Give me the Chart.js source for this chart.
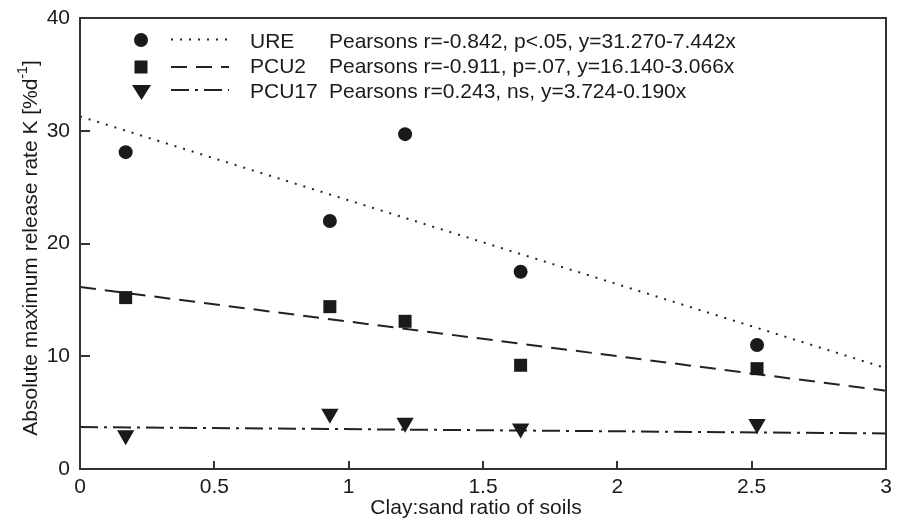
<!DOCTYPE html>
<html>
<head>
<meta charset="utf-8">
<script src="https://cdn.jsdelivr.net/npm/chart.js@4.4.1/dist/chart.umd.min.js"></script>
<style>
  html, body { margin: 0; padding: 0; background: #fff; }
  #wrap { width: 898px; height: 525px; }
</style>
</head>
<body>
<div id="wrap"><canvas id="chart"></canvas></div>
<script>
const clayRatio = [0.17, 0.93, 1.21, 1.64, 2.52];
const ureK = [28.1, 22.0, 29.7, 17.5, 11.0];
const pcu2K = [15.2, 14.4, 13.1, 9.2, 8.9];
const pcu17K = [3.0, 4.9, 4.1, 3.6, 4.0];

// Regression lines y = a + b*x
const seriesNames = ['URE', 'PCU2', 'PCU17'];
const fitIntercepts = [31.270, 16.140, 3.724];
const fitSlopes = [-7.442, -3.066, -0.190];
const fitRange = [0, 3];
const statsText = [
    'Pearsons r=-0.842, p<.05, y=31.270-7.442x',
    'Pearsons r=-0.911, p=.07, y=16.140-3.066x',
    'Pearsons r=0.243, ns, y=3.724-0.190x'
];

const xTicks = [0, 0.5, 1, 1.5, 2, 2.5, 3];
const yTicks = [0, 10, 20, 30, 40];

const ink = '#1a1a1a';
const fontFamily = '"Liberation Sans", Arial, Helvetica, sans-serif';
const dashes = [[2, 7], [16, 9], [18, 6, 3, 6]];
const markers = ['circle', 'rect', 'triangle'];

function toPoints(ys) {
    return clayRatio.map((x, i) => ({ x: x, y: ys[i] }));
}

function fitLine(i) {
    return fitRange.map(x => ({ x: x, y: fitIntercepts[i] + fitSlopes[i] * x }));
}

const pointSets = [ureK, pcu2K, pcu17K];
const datasets = [];

pointSets.forEach((ys, i) => {
    datasets.push({
        label: seriesNames[i],
        data: toPoints(ys),
        showLine: false,
        pointStyle: markers[i],
        pointRadius: i === 0 ? 7 : (i === 1 ? 9.2 : 10),
        pointRotation: i === 2 ? 180 : 0,
        backgroundColor: ink,
        borderColor: ink,
        borderWidth: 0
    });
});

seriesNames.forEach((name, i) => {
    datasets.push({
        label: name + ' fit',
        data: fitLine(i),
        showLine: true,
        pointRadius: 0,
        borderColor: '#222',
        borderWidth: 2,
        borderDash: dashes[i],
        fill: false
    });
});

// Frame, inward ticks, legend and axis titles
const decorPlugin = {
    id: 'decor',
    afterDraw(chart) {
        const ctx = chart.ctx;
        const area = chart.chartArea;
        const xs = chart.scales.x;
        const ys = chart.scales.y;

        ctx.save();
        ctx.strokeStyle = '#333';
        ctx.lineWidth = 2;
        ctx.strokeRect(area.left, area.top, area.right - area.left, area.bottom - area.top);

        // inward ticks
        ctx.beginPath();
        xTicks.slice(1, -1).forEach(v => {
            const px = Math.round(xs.getPixelForValue(v));
            ctx.moveTo(px, area.bottom);
            ctx.lineTo(px, area.bottom - 8);
        });
        yTicks.slice(1, -1).forEach(v => {
            const py = Math.round(ys.getPixelForValue(v));
            ctx.moveTo(area.left, py);
            ctx.lineTo(area.left + 10, py);
        });
        ctx.stroke();

        // legend
        const rowY = [40, 67, 91];
        const lineY = [39.5, 67, 90];
        ctx.fillStyle = ink;
        ctx.strokeStyle = '#222';
        ctx.lineWidth = 2;
        rowY.forEach((y, i) => {
            ctx.beginPath();
            if (i === 0) {
                ctx.arc(141, y, 7, 0, Math.PI * 2);
            } else if (i === 1) {
                ctx.rect(134.5, y - 6.5, 13, 13);
            } else {
                ctx.moveTo(132, y - 6);
                ctx.lineTo(151, y - 6);
                ctx.lineTo(141.5, y + 9);
                ctx.closePath();
            }
            ctx.fill();

            ctx.beginPath();
            ctx.setLineDash(dashes[i]);
            ctx.moveTo(171, lineY[i]);
            ctx.lineTo(229, lineY[i]);
            ctx.stroke();
            ctx.setLineDash([]);
        });

        ctx.font = '21px ' + fontFamily;
        ctx.textBaseline = 'middle';
        ctx.textAlign = 'left';
        const textY = [42, 67, 92];
        seriesNames.forEach((name, i) => {
            ctx.fillText(name, 250, textY[i]);
            ctx.fillText(statsText[i], 329, textY[i]);
        });

        // axis titles
        ctx.font = '21px ' + fontFamily;
        ctx.textAlign = 'center';
        ctx.textBaseline = 'middle';
        ctx.fillText('Clay:sand ratio of soils', 476, 508);

        ctx.translate(31, 248);
        ctx.rotate(-Math.PI / 2);
        const main = 'Absolute maximum release rate K [%d';
        const sup = '-1';
        const tail = ']';
        const wMain = ctx.measureText(main).width;
        const wTail = ctx.measureText(tail).width;
        ctx.font = '14px ' + fontFamily;
        const wSup = ctx.measureText(sup).width;
        const total = wMain + wSup + wTail;
        let x0 = -total / 2;
        ctx.textAlign = 'left';
        ctx.font = '21px ' + fontFamily;
        ctx.fillText(main, x0, 0);
        ctx.font = '14px ' + fontFamily;
        ctx.fillText(sup, x0 + wMain, -8);
        ctx.font = '21px ' + fontFamily;
        ctx.fillText(tail, x0 + wMain + wSup, 0);
        ctx.restore();
    }
};

new Chart(document.getElementById('chart'), {
    type: 'scatter',
    data: { datasets: datasets },
    options: {
        responsive: true,
        maintainAspectRatio: false,
        animation: false,
        layout: { padding: { top: 18, right: 12, left: 0, bottom: 0 } },
        plugins: {
            legend: { display: false },
            tooltip: { enabled: false }
        },
        scales: {
            x: {
                type: 'linear',
                min: 0,
                max: 3,
                afterFit: scale => {
                    scale.height = 56;
                    scale.paddingLeft = 0;
                    scale.paddingRight = 0;
                },
                afterBuildTicks: scale => { scale.ticks = xTicks.map(v => ({ value: v })); },
                grid: { display: false, drawTicks: false },
                border: { display: false },
                ticks: {
                    padding: 6,
                    color: ink,
                    font: { family: fontFamily, size: 21 },
                    callback: v => String(v)
                }
            },
            y: {
                type: 'linear',
                min: 0,
                max: 40,
                afterFit: scale => {
                    scale.width = 80;
                    scale.paddingTop = 0;
                    scale.paddingBottom = 0;
                },
                afterBuildTicks: scale => { scale.ticks = yTicks.map(v => ({ value: v })); },
                grid: { display: false, drawTicks: false },
                border: { display: false },
                ticks: {
                    padding: 10,
                    color: ink,
                    font: { family: fontFamily, size: 21 },
                    callback: v => String(v)
                }
            }
        }
    },
    plugins: [decorPlugin]
});
</script>
</body>
</html>
